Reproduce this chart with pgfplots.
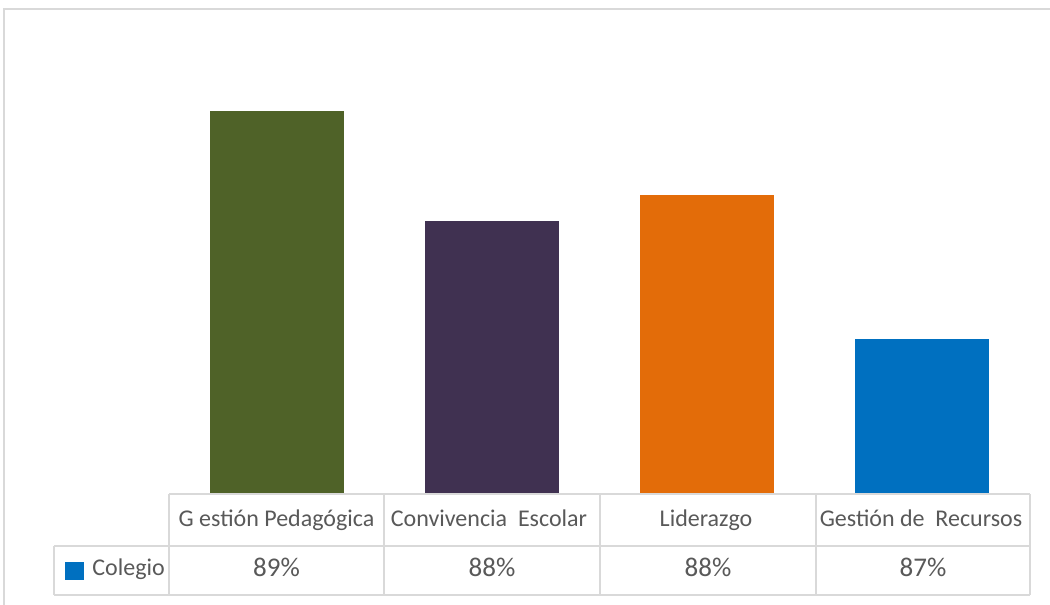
\documentclass[border=0pt]{standalone}
\usepackage{pgfplots}
\pgfplotsset{compat=1.18}
\usepackage{fontspec}
\setmainfont{Carlito}
\definecolor{cgreen}{HTML}{4F6228}
\definecolor{cpurple}{HTML}{403151}
\definecolor{corange}{HTML}{E36C09}
\definecolor{cblue}{HTML}{0070C0}
\definecolor{grid}{HTML}{D9D9D9}
\definecolor{txt}{HTML}{595959}
\begin{document}
\begin{tikzpicture}[x=0.5pt,y=-0.5pt]
\useasboundingbox (0,0) rectangle (1050,605);
\clip (0,0) rectangle (1050,605);
\fill[white] (0,0) rectangle (1050,605);
\draw[grid,line width=1pt] (4,620) -- (4,9) -- (1070,9);
\coordinate (A) at (169,493);
\begin{axis}[
  at={(A)}, anchor=origin,
  scale only axis, width=430.5pt, height=236.5pt,
  xmin=-0.5, xmax=3.5, ymin=0.85, ymax=0.90,
  axis lines=none, ticks=none,
  ybar, bar width=67pt,
  anchor=south west,
]
\addplot[fill=cgreen, draw=none, bar shift=0pt] coordinates {(0,0.8904)};
\addplot[fill=cpurple, draw=none, bar shift=0pt] coordinates {(1,0.8788)};
\addplot[fill=corange, draw=none, bar shift=0pt] coordinates {(2,0.8815)};
\addplot[fill=cblue, draw=none, bar shift=0pt] coordinates {(3,0.8663)};
\end{axis}
% data table
\begin{scope}[grid, line width=1pt]
\draw (169,494) -- (1030,494);
\draw (54,546) -- (1030,546);
\draw (54,595) -- (1030,595);
\foreach \xx in {169,384,600,816,1030} \draw (\xx,494) -- (\xx,595);
\draw (54,546) -- (54,595);
\end{scope}
\begin{scope}[every node/.style={text=txt, font=\fontsize{12}{14}\selectfont, inner sep=0pt, anchor=base}]
\node at (276.5,526) {G estión Pedagógica};
\node at (489,526) {Convivencia\ \ Escolar};
\node at (706,526) {Liderazgo};
\node at (921,526) {Gestión de\ \ Recursos};
\begin{scope}[every node/.append style={font=\fontsize{13.5}{15}\selectfont}]
\node at (276.5,576) {89\%};
\node at (492,576) {88\%};
\node at (708,576) {88\%};
\node at (923,576) {87\%};
\end{scope}
\node[anchor=base west] at (92,575) {Colegio};
\end{scope}
\fill[cblue] (65,562) rectangle (84,580);
\end{tikzpicture}
\end{document}
